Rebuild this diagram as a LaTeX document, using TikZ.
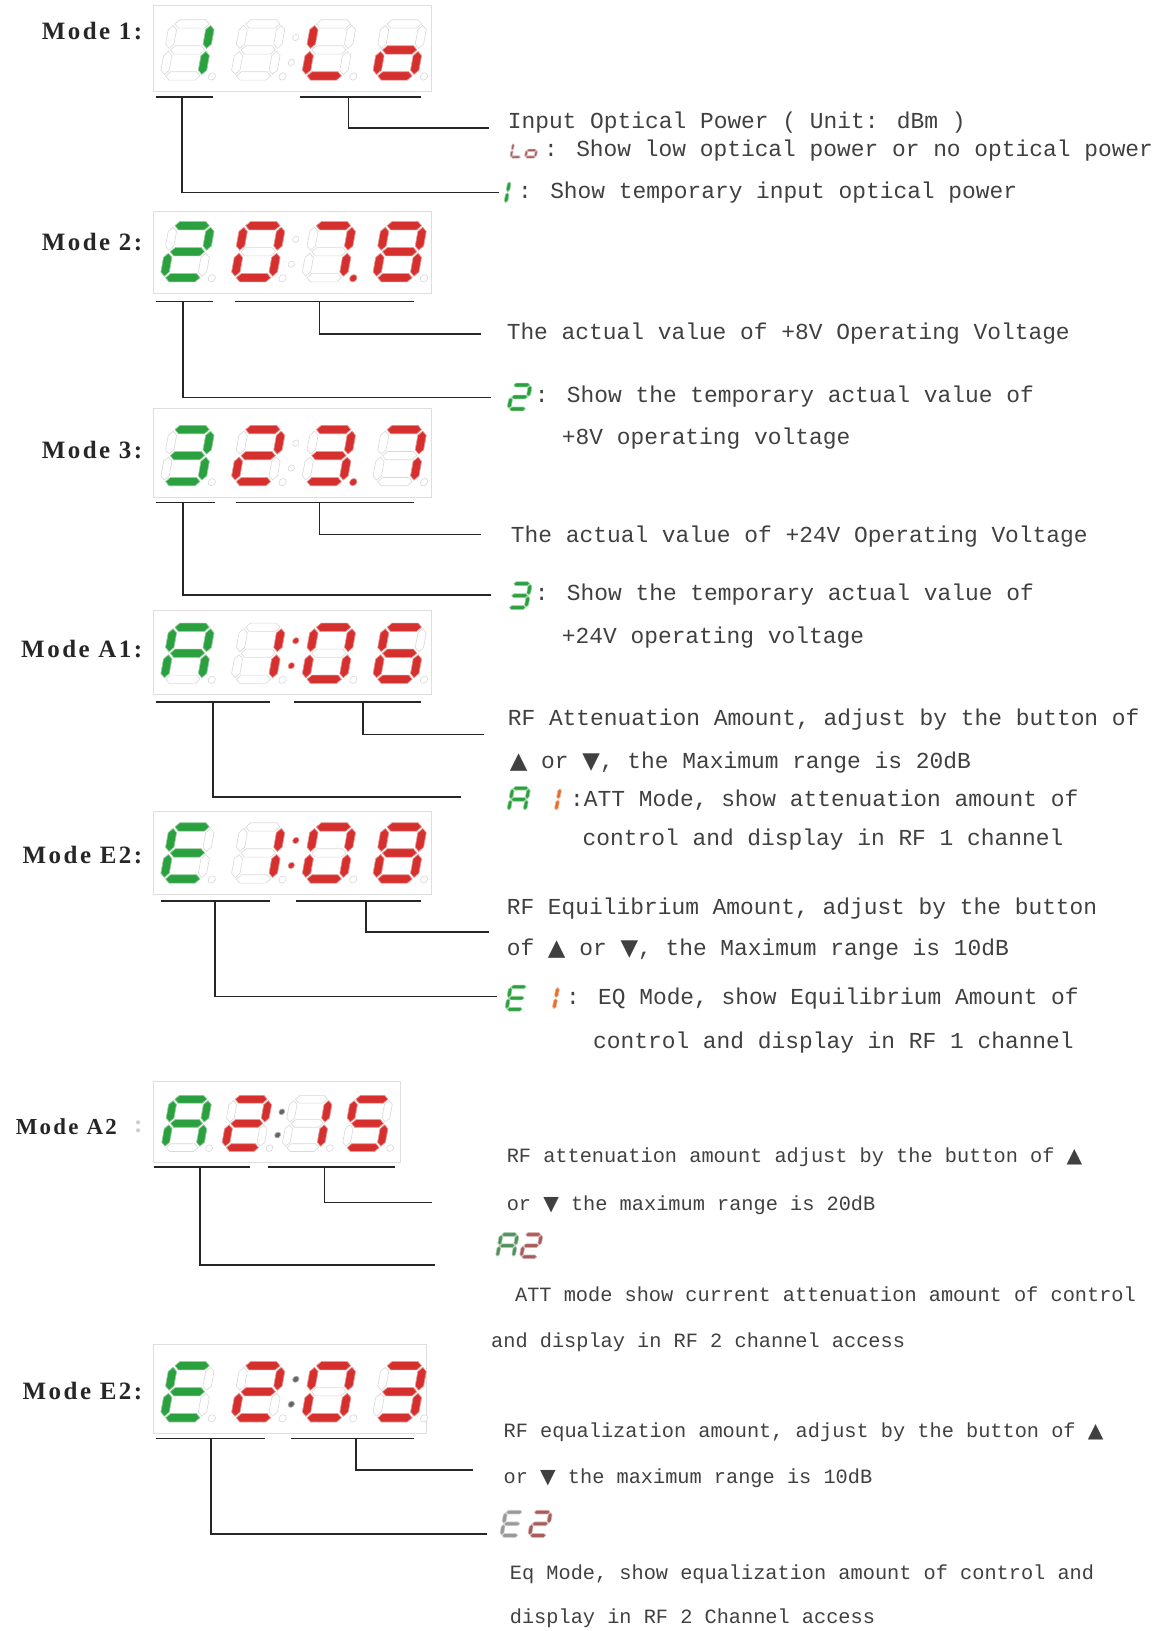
\documentclass[tikz,border=0pt]{standalone}
\usepackage{fontspec}
\setmainfont{Liberation Serif}
\newfontfamily\notefont{Liberation Mono}
\newfontfamily\modefont[LetterSpace=10]{Liberation Serif}
\newfontfamily\symfont{DejaVu Sans}

\definecolor{ledred}{RGB}{214,48,46}
\definecolor{ledgreen}{RGB}{42,160,62}
\definecolor{ledorange}{RGB}{232,110,40}
\colorlet{leddark}{black!60}
\colorlet{ledgrey}{black!40}
\colorlet{ledpalered}{ledred!45!gray}
\colorlet{ledpalegreen}{ledgreen!55!gray}

% segment outlines of one digit (upright, 44 x 58)
\newcommand{\ledsega}{(5.5,54)--(9.5,58)--(34.5,58)--(38.5,54)--(34.5,50)--(9.5,50)--cycle}
\newcommand{\ledsegb}{(40,30.5)--(44,34.5)--(44,48.5)--(40,52.5)--(36,48.5)--(36,34.5)--cycle}
\newcommand{\ledsegc}{(40,5.5)--(44,9.5)--(44,23.5)--(40,27.5)--(36,23.5)--(36,9.5)--cycle}
\newcommand{\ledsegd}{(5.5,4)--(9.5,8)--(34.5,8)--(38.5,4)--(34.5,0)--(9.5,0)--cycle}
\newcommand{\ledsege}{(4,5.5)--(8,9.5)--(8,23.5)--(4,27.5)--(0,23.5)--(0,9.5)--cycle}
\newcommand{\ledsegf}{(4,30.5)--(8,34.5)--(8,48.5)--(4,52.5)--(0,48.5)--(0,34.5)--cycle}
\newcommand{\ledsegg}{(5.5,29)--(9.5,33)--(34.5,33)--(38.5,29)--(34.5,25)--(9.5,25)--cycle}
\newcommand{\ledsegp}{(50,3.5) circle[radius=3.5]}
\newcommand{\ledsegk}{(56,17) circle[radius=3] (56,41) circle[radius=3]}
\newcommand{\ledsegnone}{}

\tikzset{
  modelabel/.style={font=\modefont\bfseries\fontsize{24}{28}\selectfont, text=black!85, inner sep=0pt},
  note/.style={font=\notefont\fontsize{22}{26}\selectfont, text=black!75, inner sep=0pt, anchor=west},
  smallnote/.style={note, font=\notefont\fontsize{19.5}{24}\selectfont},
  panel/.style={draw=black!13, line width=1pt},
  lead/.style={draw=black!85, line width=1.6pt},
  segoff/.style={draw=black!15, fill=white, line width=0.6pt},
  segon/.style={fill=#1, draw=#1!50!white, line width=0.6pt},
}

% digit of a panel: [scale]{x}{y of bottom}{lit segments}{colour}
\newcommand{\leddigit}[5][1]{%
  \begin{scope}[shift={(#2,#3)}, x={(#1pt,0pt)}, y={(0.18*#1pt,#1pt)}]
    \foreach \s in {a,b,c,d,e,f,g,p}{\draw[segoff] \csname ledseg\s\endcsname;}
    \foreach \s in {#4}{\filldraw[segon=#5] \csname ledseg\s\endcsname;}
  \end{scope}}
% small digit inside the notes
\newcommand{\minidigit}[5][0.45]{%
  \begin{scope}[shift={(#2,#3)}, x={(#1pt,0pt)}, y={(0.18*#1pt,#1pt)}]
    \foreach \s in {#4}{\filldraw[segon=#5] \csname ledseg\s\endcsname;}
  \end{scope}}
% colon after the second digit
\newcommand{\ledcolon}[4][1]{%
  \begin{scope}[shift={(#2,#3)}, x={(#1pt,0pt)}, y={(0.18*#1pt,#1pt)}]
    \filldraw[#4] \ledsegk;
  \end{scope}}

\begin{document}
\begin{tikzpicture}[x=1pt, y=-1pt]
\fill[white] (0,0) rectangle (1122,1568);
\useasboundingbox (0,0) rectangle (1122,1568);

% ---- Mode 1
\node[modelabel, anchor=east] (m1) at (137,30) {Mode 1:};
\draw[panel] (148,5) rectangle (415,88);
\ledcolon{221}{77}{segoff}
\leddigit{153}{77}{b,c}{ledgreen}
\leddigit{221}{77}{none}{ledred}
\leddigit{289}{77}{d,e,f}{ledred}
\leddigit{357}{77}{c,d,e,g}{ledred}
\draw[lead] (150,93) -- (205,93);
\draw[lead] (288,93) -- (405,93);
\coordinate (j1a) at (335,93);
\coordinate (e1a) at (470,123);
\coordinate (j1b) at (175,93);
\coordinate (e1b) at (480,185);
\draw[lead] (j1a) |- (e1a);
\draw[lead] (j1b) |- (e1b);
\node[note] (t1a) at (488,118) {Input Optical Power ( Unit: dBm )};
\minidigit[0.26]{490}{152}{d,e,f}{ledpalered}
\minidigit[0.26]{504}{152}{c,d,e,g}{ledpalered}
\node[note] (t1b) at (523,145) {: Show low optical power or no optical power};
\minidigit[0.42]{469}{197}{b,c}{ledgreen}
\node[note] (t1c) at (498,185) {: Show temporary input optical power};

% ---- Mode 2
\node[modelabel, anchor=east] (m2) at (137,233) {Mode 2:};
\draw[panel] (148,203) rectangle (415,282);
\ledcolon{221}{271}{segoff}
\leddigit{153}{271}{a,b,d,e,g}{ledgreen}
\leddigit{221}{271}{a,b,c,d,e,f}{ledred}
\leddigit{289}{271}{a,b,c,p}{ledred}
\leddigit{357}{271}{a,b,c,d,e,f,g}{ledred}
\draw[lead] (150,290) -- (205,290);
\draw[lead] (226,290) -- (398,290);
\coordinate (j2a) at (307,290);
\coordinate (e2a) at (462,321);
\coordinate (j2b) at (176,290);
\coordinate (e2b) at (472,382);
\draw[lead] (j2a) |- (e2a);
\draw[lead] (j2b) |- (e2b);
\node[note] (t2a) at (487,321) {The actual value of +8V Operating Voltage};
\minidigit[0.46]{487}{395}{a,b,d,e,g}{ledgreen}
\node[note] (t2b) at (514,381) {: Show the temporary actual value of};
\node[note] (t2c) at (540,422) {+8V operating voltage};

% ---- Mode 3
\node[modelabel, anchor=east] (m3) at (137,433) {Mode 3:};
\draw[panel] (148,393) rectangle (415,478);
\ledcolon{221}{467}{segoff}
\leddigit{153}{467}{a,b,c,d,g}{ledgreen}
\leddigit{221}{467}{a,b,d,e,g}{ledred}
\leddigit{289}{467}{a,b,c,d,g,p}{ledred}
\leddigit{357}{467}{a,b,c}{ledred}
\draw[lead] (150,483) -- (207,483);
\draw[lead] (227,483) -- (398,483);
\coordinate (j3a) at (307,483);
\coordinate (e3a) at (462,514);
\coordinate (j3b) at (176,483);
\coordinate (e3b) at (472,572);
\draw[lead] (j3a) |- (e3a);
\draw[lead] (j3b) |- (e3b);
\node[note] (t3a) at (491,516) {The actual value of +24V Operating Voltage};
\minidigit[0.46]{487}{586}{a,b,c,d,g}{ledgreen}
\node[note] (t3b) at (514,572) {: Show the temporary actual value of};
\node[note] (t3c) at (540,613) {+24V operating voltage};

% ---- Mode A1
\node[modelabel, anchor=east] (m4) at (137,624) {Mode A1:};
\draw[panel] (148,587) rectangle (415,668);
\ledcolon{221}{657}{segon=ledred}
\leddigit{153}{657}{a,b,c,e,f,g}{ledgreen}
\leddigit{221}{657}{b,c}{ledred}
\leddigit{289}{657}{a,b,c,d,e,f}{ledred}
\leddigit{357}{657}{a,c,d,e,f,g}{ledred}
\draw[lead] (150,675) -- (260,675);
\draw[lead] (283,675) -- (405,675);
\coordinate (j4a) at (349,675);
\coordinate (e4a) at (465,706);
\coordinate (j4b) at (205,675);
\coordinate (e4b) at (443,766);
\draw[lead] (j4a) |- (e4a);
\draw[lead] (j4b) |- (e4b);
\node[note] (t4a) at (488,692) {RF Attenuation Amount, adjust by the button of};
\node[note] (t4b) at (490,733) {{\symfont ▲} or {\symfont ▼}, the Maximum range is 20dB};
\minidigit[0.43]{487}{781}{a,b,c,e,f,g}{ledgreen}
\minidigit[0.43]{517}{781}{b,c}{ledorange}
\node[note] (t4c) at (548,769) {:ATT Mode, show attenuation amount of};
\node[note] (t4d) at (560,807) {control and display in RF 1 channel};

% ---- Mode E2 (RF 1)
\node[modelabel, anchor=east] (m5) at (137,822) {Mode E2:};
\draw[panel] (148,780) rectangle (415,860);
\ledcolon{221}{849}{segon=ledred}
\leddigit{153}{849}{a,d,e,f,g}{ledgreen}
\leddigit{221}{849}{b,c}{ledred}
\leddigit{289}{849}{a,b,c,d,e,f}{ledred}
\leddigit{357}{849}{a,b,c,d,e,f,g}{ledred}
\draw[lead] (155,866) -- (260,866);
\draw[lead] (285,866) -- (405,866);
\coordinate (j5a) at (352,866);
\coordinate (e5a) at (470,896);
\coordinate (j5b) at (207,866);
\coordinate (e5b) at (478,958);
\draw[lead] (j5a) |- (e5a);
\draw[lead] (j5b) |- (e5b);
\node[note] (t5a) at (487,873) {RF Equilibrium Amount, adjust by the button};
\node[note] (t5b) at (487,913) {of {\symfont ▲} or {\symfont ▼}, the Maximum range is 10dB};
\minidigit[0.43]{485}{972}{a,d,e,f,g}{ledgreen}
\minidigit[0.43]{515}{972}{b,c}{ledorange}
\node[note] (t5c) at (544,960) {: EQ Mode, show Equilibrium Amount of};
\node[note] (t5d) at (570,1002) {control and display in RF 1 channel};

% ---- Mode A2
\node[modelabel, font=\modefont\bfseries\fontsize{22}{26}\selectfont, anchor=west] (m6) at (15,1083) {Mode A2};
\node[modelabel, text=black!20] (m6c) at (133,1083) {:};
\draw[panel] (148,1040) rectangle (385,1118);
\ledcolon[0.93]{212}{1107}{segon=leddark}
\leddigit[0.93]{154}{1107}{a,b,c,e,f,g}{ledgreen}
\leddigit[0.93]{212}{1107}{a,b,d,e,g}{ledred}
\leddigit[0.93]{270}{1107}{b,c}{ledred}
\leddigit[0.93]{328}{1107}{a,c,d,f,g}{ledred}
\draw[lead] (148,1122) -- (240,1122);
\draw[lead] (258,1122) -- (380,1122);
\coordinate (j6a) at (312,1122);
\coordinate (e6a) at (415,1156);
\coordinate (j6b) at (192,1122);
\coordinate (e6b) at (418,1216);
\draw[lead] (j6a) |- (e6a);
\draw[lead] (j6b) |- (e6b);
\node[smallnote] (t6a) at (487,1113) {RF attenuation amount adjust by the button of {\symfont ▲}};
\node[smallnote] (t6b) at (487,1159) {or {\symfont ▼} the maximum range is 20dB};
\minidigit[0.43]{476}{1210}{a,b,c,e,f,g}{ledpalegreen}
\minidigit[0.43]{499}{1210}{a,b,d,e,g}{ledpalered}
\node[smallnote] (t6c) at (495,1244) {ATT mode show current attenuation amount of control};
\node[smallnote] (t6d) at (472,1290) {and display in RF 2 channel access};

% ---- Mode E2 (RF 2)
\node[modelabel, anchor=east] (m7) at (137,1337) {Mode E2:};
\draw[panel] (148,1293) rectangle (410,1378);
\ledcolon{221}{1367}{segon=leddark}
\leddigit{153}{1367}{a,d,e,f,g}{ledgreen}
\leddigit{221}{1367}{a,b,d,e,g}{ledred}
\leddigit{289}{1367}{a,b,c,d,e,f}{ledred}
\leddigit{357}{1367}{a,b,c,d,g}{ledred}
\draw[lead] (150,1383) -- (255,1383);
\draw[lead] (280,1383) -- (398,1383);
\coordinate (j7a) at (342,1383);
\coordinate (e7a) at (455,1413);
\coordinate (j7b) at (203,1383);
\coordinate (e7b) at (468,1475);
\draw[lead] (j7a) |- (e7a);
\draw[lead] (j7b) |- (e7b);
\node[smallnote] (t7a) at (484,1377) {RF equalization amount, adjust by the button of {\symfont ▲}};
\node[smallnote] (t7b) at (484,1421) {or {\symfont ▼} the maximum range is 10dB};
\minidigit[0.45]{480}{1478}{a,d,e,f,g}{ledgrey}
\minidigit[0.45]{507}{1478}{a,b,d,e,g}{ledpalered}
\node[smallnote] (t7c) at (490,1513) {Eq Mode, show equalization amount of control and};
\node[smallnote] (t7d) at (490,1556) {display in RF 2 Channel access};
\end{tikzpicture}
\end{document}
